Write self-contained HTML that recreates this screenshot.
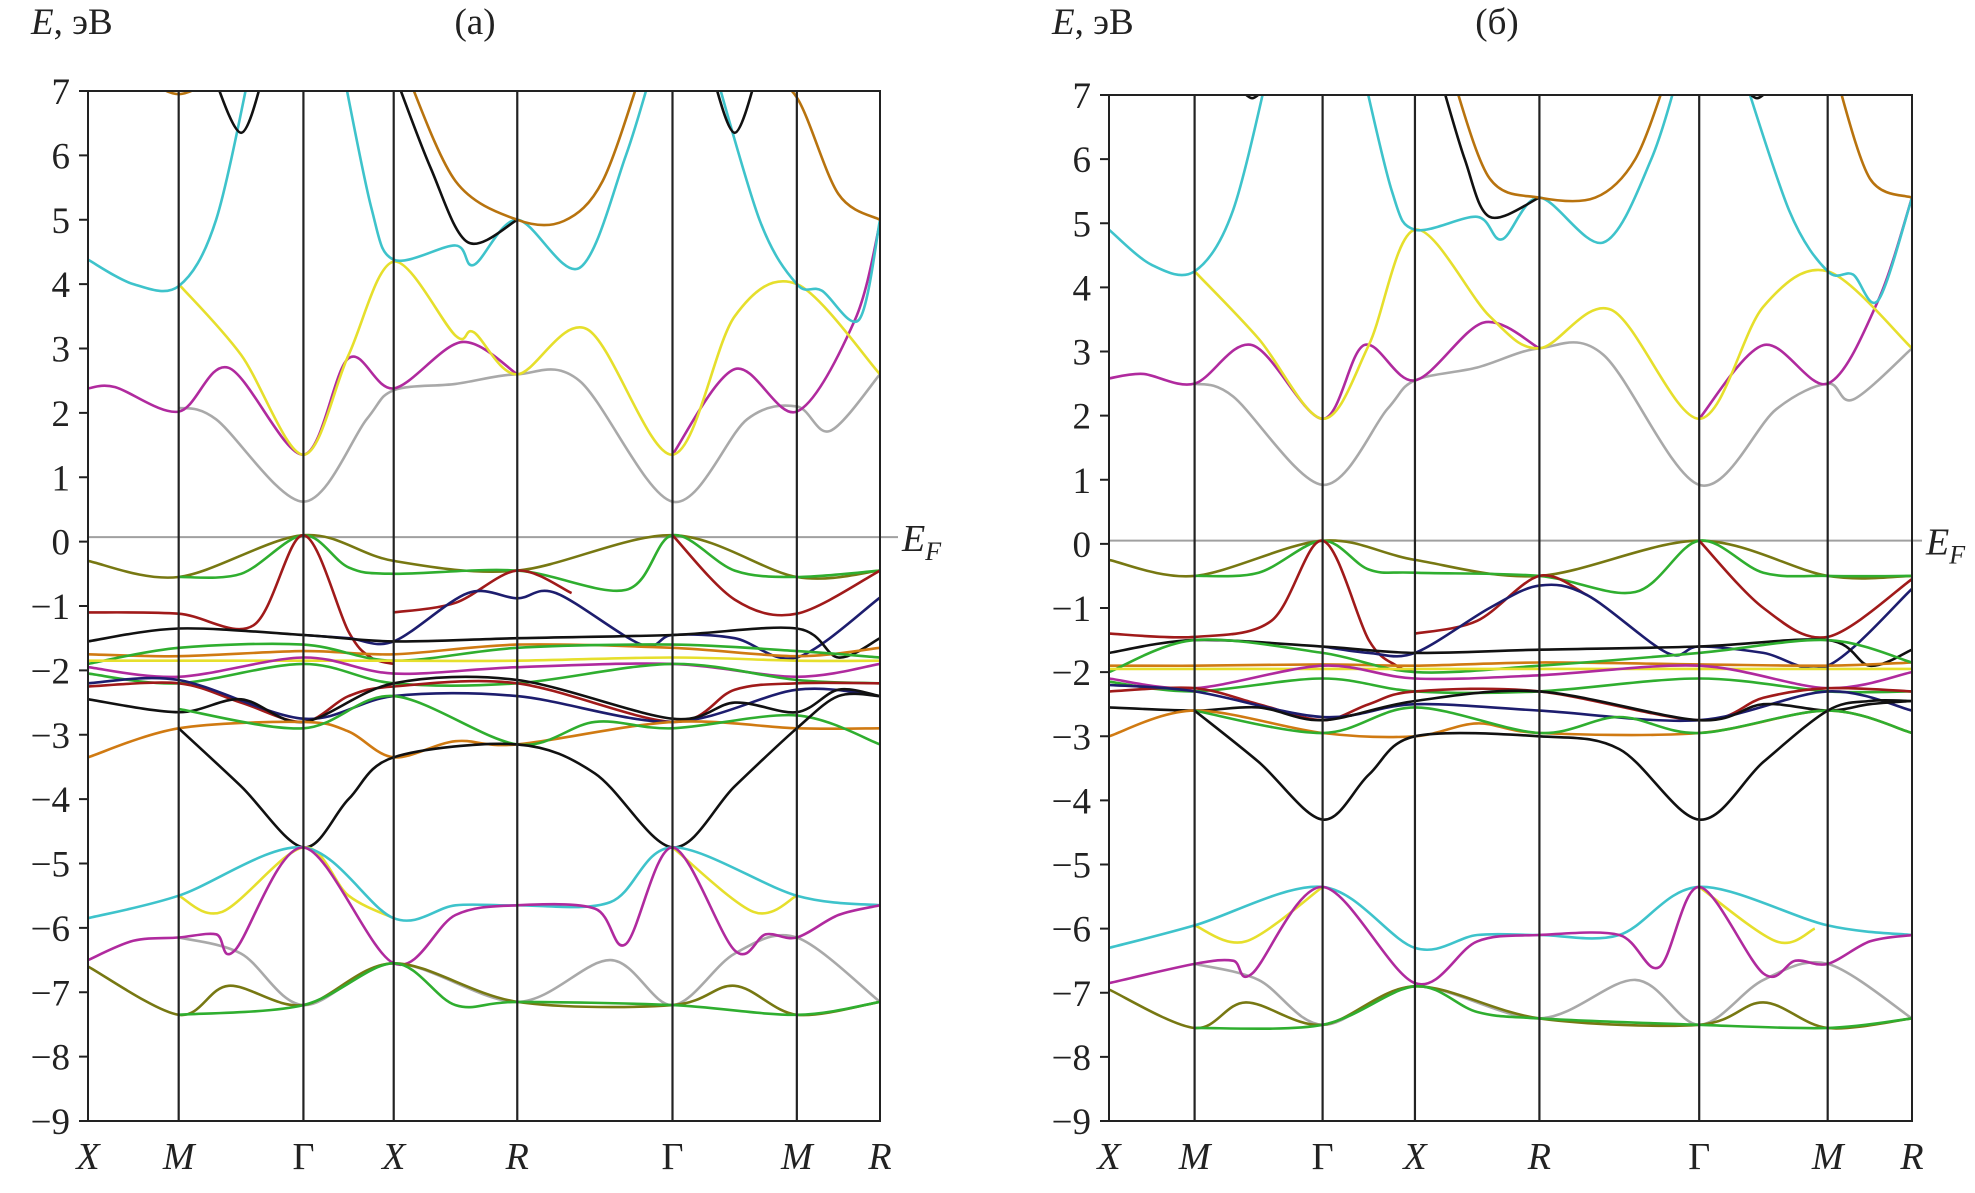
<!DOCTYPE html>
<html><head><meta charset="utf-8">
<style>
html,body{margin:0;padding:0;background:#fff;}
svg{display:block;}
text{font-family:"Liberation Serif",serif;fill:#222;}
</style></head>
<body>
<svg id="chart" width="1975" height="1193" viewBox="0 0 1975 1193" xmlns="http://www.w3.org/2000/svg"></svg>
<script>
// ---- data (energies in eV; k in path-node units: X=0,M=1,Γ=2,X=3,R=4,Γ=5,M=6,R=7) ----
const kLabels = ["X","M","Γ","X","R","Γ","M","R"];
const yTicks = [7,6,5,4,3,2,1,0,-1,-2,-3,-4,-5,-6,-7,-8,-9];
const fermiA = 0.07;
const fermiB = 0.05;

const C = {cyan:"#3ec3cb",yellow:"#e6df2c",purple:"#b02a9e",gray:"#a9a9a9",brown:"#b8730e",black:"#111",olive:"#777812",green:"#2fae2f",red:"#a01a1a",navy:"#1d1d6e",orange:"#d07a12"};

const bandsA = [
 ["gray",[[1,2.08],[1.3,1.9],[2,0.62],[2.7,1.9],[3,2.35],[3.5,2.45],[4,2.6],[4.4,2.5],[5,0.62],[5.6,1.9],[6,2.1],[6.4,1.72],[7,2.6]]],
 ["purple",[[0,2.38],[0.3,2.4],[1,2.02],[1.4,2.7],[2,1.35],[2.5,2.85],[3,2.38],[3.55,3.1],[4,2.6]]],
 ["purple",[[5,1.35],[5.5,2.68],[6,2.02],[6.7,3.45],[7,4.95]]],
 ["yellow",[[1,4.0],[1.5,2.9],[2,1.35],[2.5,2.9],[3,4.35],[3.5,3.2],[3.65,3.25],[4,2.6],[4.45,3.3],[5,1.35],[5.5,3.5],[6,4.0],[7,2.6]]],
 ["cyan",[[0,4.38],[0.5,4.0],[1,3.97],[1.3,5],[1.6,7.6]]],
 ["cyan",[[2.4,7.6],[2.75,5.2],[3,4.38],[3.5,4.6],[3.65,4.3],[4,5.0],[4.4,4.25],[4.7,6],[4.9,7.6]]],
 ["cyan",[[5.3,7.6],[5.7,5],[6,4.0],[6.3,3.9],[6.75,3.45],[7,5.0]]],
 ["black",[[1.25,7.4],[1.5,6.35],[1.7,7.4]]],
 ["black",[[3,7.3],[3.3,5.8],[3.6,4.65],[4,5.0]]],
 ["black",[[5.3,7.4],[5.5,6.35],[5.7,7.4]]],
 ["brown",[[0.6,7.2],[1,6.95],[1.3,7.2]]],
 ["brown",[[3.1,7.3],[3.5,5.6],[4,5.0],[4.3,4.98],[4.55,5.6],[4.8,7.3]]],
 ["brown",[[5.7,7.3],[6,6.9],[6.5,5.4],[7,5.0]]],
 ["olive",[[0,-0.3],[1,-0.55],[2,0.1],[3,-0.3],[4,-0.45],[5,0.1],[6,-0.55],[7,-0.45]]],
 ["green",[[1,-0.55],[1.5,-0.5],[2,0.1],[2.5,-0.4],[3,-0.5],[4,-0.45],[4.7,-0.75],[5,0.1],[5.5,-0.45],[6,-0.55],[7,-0.45]]],
 ["red",[[0,-1.1],[1,-1.12],[1.6,-1.3],[2,0.1],[2.5,-1.4],[2.75,-1.8],[3,-1.9]]],
 ["red",[[3,-1.1],[3.5,-0.95],[4,-0.45],[4.35,-0.8]]],
 ["red",[[5,0.1],[5.5,-0.9],[6,-1.12],[7,-0.45]]],
 ["navy",[[2,-1.45],[2.5,-1.5],[3,-1.55],[3.6,-0.8],[4,-0.88],[4.25,-0.8],[4.8,-1.6],[5,-1.45],[5.5,-1.5],[6,-1.8],[7,-0.87]]],
 ["black",[[0,-1.55],[1,-1.35],[2,-1.45],[3,-1.55],[4,-1.5],[5,-1.45],[6,-1.35],[6.5,-1.8],[7,-1.5]]],
 ["orange",[[0,-1.75],[1,-1.78],[2,-1.7],[3,-1.75],[4,-1.6],[5,-1.65],[6,-1.78],[7,-1.65]]],
 ["green",[[0,-1.9],[1,-1.65],[2,-1.6],[3,-1.85],[4,-1.65],[5,-1.6],[6,-1.7],[7,-1.8]]],
 ["yellow",[[0,-1.85],[1,-1.85],[2,-1.85],[3,-1.85],[4,-1.85],[5,-1.8],[6,-1.85],[7,-1.85]]],
 ["purple",[[0,-1.95],[1,-2.1],[2,-1.8],[3,-2.05],[4,-1.95],[5,-1.9],[6,-2.1],[7,-1.9]]],
 ["green",[[0,-2.05],[1,-2.2],[2,-1.9],[3,-2.2],[4,-2.2],[5,-1.9],[6,-2.15],[7,-2.2]]],
 ["red",[[0,-2.25],[1,-2.2],[1.5,-2.5],[2,-2.8],[2.5,-2.4],[3,-2.25],[4,-2.2],[5,-2.8],[5.5,-2.3],[6,-2.2],[7,-2.2]]],
 ["navy",[[0,-2.2],[1,-2.15],[2,-2.75],[3,-2.4],[4,-2.4],[5,-2.8],[6,-2.3],[7,-2.4]]],
 ["black",[[0,-2.45],[1,-2.65],[1.5,-2.45],[2,-2.8],[3,-2.2],[4,-2.15],[5,-2.75],[5.5,-2.5],[6,-2.65],[6.5,-2.3],[7,-2.4]]],
 ["orange",[[0,-3.35],[1,-2.9],[2,-2.8],[2.5,-2.95],[3,-3.35],[3.5,-3.1],[4,-3.15],[5,-2.8],[6,-2.9],[7,-2.9]]],
 ["green",[[1,-2.6],[2,-2.9],[3,-2.4],[4,-3.15],[4.5,-2.8],[5,-2.9],[6,-2.7],[7,-3.15]]],
 ["black",[[1,-2.9],[1.5,-3.8],[2,-4.75],[2.5,-4.0],[3,-3.35],[4,-3.15],[4.5,-3.6],[5,-4.75],[5.5,-3.8],[6,-2.9],[6.5,-2.4],[7,-2.4]]],
 ["gray",[[1,-6.15],[1.5,-6.4],[2,-7.2],[3,-6.55],[4,-7.15],[4.6,-6.5],[5,-7.2],[5.5,-6.4],[6,-6.15],[7,-7.15]]],
 ["yellow",[[1,-5.5],[1.35,-5.75],[2,-4.75],[2.5,-5.5],[3,-5.85]]],
 ["yellow",[[5,-4.75],[5.65,-5.75],[6,-5.5]]],
 ["cyan",[[0,-5.85],[1,-5.5],[2,-4.75],[3,-5.85],[3.5,-5.65],[4,-5.65],[4.6,-5.6],[5,-4.75],[6,-5.5],[7,-5.65]]],
 ["purple",[[0,-6.5],[0.5,-6.2],[1,-6.15],[1.3,-6.1],[1.45,-6.35],[2,-4.75],[3,-6.55],[3.5,-5.8],[4,-5.65],[4.5,-5.7],[4.7,-6.25],[5,-4.75],[5.5,-6.35],[5.75,-6.1],[6,-6.15],[6.5,-5.8],[7,-5.65]]],
 ["olive",[[0,-6.6],[1,-7.35],[1.4,-6.9],[2,-7.2],[3,-6.55],[4,-7.15],[5,-7.2],[5.5,-6.9],[6,-7.35],[7,-7.15]]],
 ["green",[[1,-7.35],[2,-7.2],[3,-6.55],[3.5,-7.2],[4,-7.15],[5,-7.2],[6,-7.35],[7,-7.15]]]
];

const bandsB = [
 ["gray",[[1,2.5],[1.3,2.3],[2,0.92],[2.7,2.1],[3,2.55],[3.5,2.75],[4,3.05],[4.4,2.95],[5,0.92],[5.6,2.1],[6,2.5],[6.3,2.25],[7,3.05]]],
 ["purple",[[0,2.58],[0.4,2.65],[1,2.5],[1.45,3.1],[2,1.95],[2.45,3.1],[3,2.55],[3.55,3.45],[4,3.05]]],
 ["purple",[[5,1.95],[5.5,3.1],[6,2.5],[6.6,3.8],[7,5.4]]],
 ["yellow",[[1,4.25],[1.5,3.2],[2,1.95],[2.5,3.1],[3,4.9],[3.6,3.55],[4,3.05],[4.45,3.65],[5,1.95],[5.5,3.7],[6,4.25],[7,3.05]]],
 ["cyan",[[0,4.9],[0.5,4.35],[1,4.25],[1.3,5.2],[1.6,7.6]]],
 ["cyan",[[2.4,7.6],[2.75,5.5],[3,4.9],[3.5,5.1],[3.7,4.75],[4,5.4],[4.4,4.7],[4.7,6],[4.9,7.6]]],
 ["cyan",[[5.3,7.6],[5.7,5.2],[6,4.25],[6.3,4.2],[6.6,3.8],[7,5.4]]],
 ["black",[[1.35,7.1],[1.45,6.95],[1.55,7.1]]],
 ["black",[[3.2,7.3],[3.4,6.0],[3.6,5.1],[4,5.4]]],
 ["black",[[5.35,7.1],[5.45,6.95],[5.55,7.1]]],
 ["brown",[[3.3,7.3],[3.6,5.7],[4,5.4],[4.35,5.4],[4.6,6.0],[4.8,7.3]]],
 ["brown",[[6.1,7.3],[6.5,5.7],[7,5.4]]],
 ["olive",[[0,-0.25],[1,-0.5],[2,0.05],[3,-0.25],[4,-0.5],[5,0.05],[6,-0.5],[7,-0.5]]],
 ["green",[[1,-0.5],[1.5,-0.45],[2,0.05],[2.5,-0.4],[3,-0.45],[4,-0.5],[4.6,-0.75],[5,0.05],[5.5,-0.45],[6,-0.5],[7,-0.5]]],
 ["red",[[0,-1.4],[1,-1.45],[1.6,-1.2],[2,0.05],[2.5,-1.5],[2.8,-1.9],[3,-2.0]]],
 ["red",[[3,-1.4],[3.5,-1.2],[4,-0.5],[4.3,-0.8]]],
 ["red",[[5,0.05],[5.5,-1.0],[6,-1.45],[7,-0.55]]],
 ["navy",[[2,-1.6],[2.5,-1.7],[3,-1.7],[3.6,-1.0],[4,-0.65],[4.3,-0.8],[4.8,-1.7],[5,-1.6],[5.5,-1.7],[6,-1.9],[7,-0.7]]],
 ["black",[[0,-1.7],[1,-1.5],[2,-1.6],[3,-1.7],[4,-1.65],[5,-1.6],[6,-1.5],[6.5,-1.9],[7,-1.65]]],
 ["orange",[[0,-1.9],[1,-1.9],[2,-1.88],[3,-1.9],[4,-1.85],[5,-1.88],[6,-1.9],[7,-1.85]]],
 ["green",[[0,-2.0],[1,-1.5],[2,-1.7],[3,-2.0],[4,-1.9],[5,-1.7],[6,-1.5],[7,-1.85]]],
 ["yellow",[[0,-1.95],[1,-1.95],[2,-1.95],[3,-1.95],[4,-1.95],[5,-1.95],[6,-1.95],[7,-1.95]]],
 ["purple",[[0,-2.1],[1,-2.25],[2,-1.9],[3,-2.1],[4,-2.05],[5,-1.9],[6,-2.25],[7,-2.0]]],
 ["green",[[0,-2.15],[1,-2.3],[2,-2.1],[3,-2.3],[4,-2.3],[5,-2.1],[6,-2.3],[7,-2.3]]],
 ["red",[[0,-2.3],[1,-2.25],[1.5,-2.5],[2,-2.75],[2.5,-2.5],[3,-2.3],[4,-2.3],[5,-2.75],[5.5,-2.4],[6,-2.25],[7,-2.3]]],
 ["navy",[[0,-2.2],[1,-2.3],[2,-2.7],[3,-2.5],[4,-2.6],[5,-2.75],[6,-2.3],[7,-2.6]]],
 ["black",[[0,-2.55],[1,-2.6],[1.5,-2.55],[2,-2.75],[3,-2.45],[4,-2.3],[5,-2.75],[5.5,-2.5],[6,-2.6],[6.5,-2.5],[7,-2.45]]],
 ["orange",[[0,-3.0],[1,-2.6],[2,-2.95],[3,-3.0],[3.5,-2.8],[4,-2.95],[5,-2.95],[6,-2.6],[7,-2.95]]],
 ["green",[[1,-2.6],[2,-2.95],[3,-2.55],[4,-2.95],[4.5,-2.7],[5,-2.95],[6,-2.6],[7,-2.95]]],
 ["black",[[1,-2.6],[1.5,-3.4],[2,-4.3],[2.5,-3.6],[3,-3.0],[4,-3.0],[4.5,-3.2],[5,-4.3],[5.5,-3.4],[6,-2.6],[6.5,-2.45],[7,-2.45]]],
 ["gray",[[1,-6.55],[1.5,-6.8],[2,-7.5],[3,-6.9],[4,-7.4],[4.6,-6.8],[5,-7.5],[5.5,-6.8],[6,-6.55],[7,-7.4]]],
 ["yellow",[[1,-5.95],[1.4,-6.2],[2,-5.35]]],
 ["yellow",[[5,-5.35],[5.6,-6.2],[5.9,-6.0]]],
 ["cyan",[[0,-6.3],[1,-5.95],[2,-5.35],[3,-6.3],[3.5,-6.1],[4,-6.1],[4.5,-6.1],[5,-5.35],[6,-5.95],[7,-6.1]]],
 ["purple",[[0,-6.85],[1,-6.55],[1.3,-6.5],[1.45,-6.7],[2,-5.35],[3,-6.85],[3.5,-6.2],[4,-6.1],[4.5,-6.1],[4.75,-6.6],[5,-5.35],[5.5,-6.7],[5.75,-6.5],[6,-6.55],[6.5,-6.2],[7,-6.1]]],
 ["olive",[[0,-6.95],[1,-7.55],[1.4,-7.15],[2,-7.5],[3,-6.9],[4,-7.4],[5,-7.5],[5.5,-7.15],[6,-7.55],[7,-7.4]]],
 ["green",[[1,-7.55],[2,-7.5],[3,-6.9],[3.5,-7.3],[4,-7.4],[5,-7.5],[6,-7.55],[7,-7.4]]]
];

const NS="http://www.w3.org/2000/svg";
const svg=document.getElementById('chart');
function mk(tag,attrs,parent){const e=document.createElementNS(NS,tag);for(const k in attrs)e.setAttribute(k,attrs[k]);(parent||svg).appendChild(e);return e;}

function drawPanel(P){
  const g=mk('g',{});
  
  
  const xs=P.fr.map(f=>P.x0+f*(P.x1-P.x0));
  const X=k=>{const i=Math.min(6,Math.floor(k));return xs[i]+(k-i)*(xs[i+1]-xs[i]);};
  const Y=e=>P.yTop+(7-e)*(P.yBot-P.yTop)/16;
  const cid='clip'+P.id;
  const cp=mk('clipPath',{id:cid},g);
  mk('rect',{x:P.x0,y:P.yTop,width:P.x1-P.x0,height:P.yBot-P.yTop},cp);
  const fl=mk('line',{x1:P.x0,x2:P.efEnd,y1:Y(P.ef),y2:Y(P.ef),stroke:'#a0a0a0','stroke-width':2},g);
  
  
  const bg=mk('g',{'clip-path':'url(#'+cid+')'},g);
  P.bands.forEach((b,bi)=>{
    const pts=b[1].map(p=>[X(p[0]),Y(p[1])]);
    let d='M'+pts[0][0].toFixed(1)+','+pts[0][1].toFixed(1);
    for(let i=0;i<pts.length-1;i++){
      const p0=pts[Math.max(0,i-1)],p1=pts[i],p2=pts[i+1],p3=pts[Math.min(pts.length-1,i+2)];
      const t=0.16;
      const c1=[p1[0]+(p2[0]-p0[0])*t,p1[1]+(p2[1]-p0[1])*t];
      const c2=[p2[0]-(p3[0]-p1[0])*t,p2[1]-(p3[1]-p1[1])*t];
      d+=' C'+c1.map(v=>v.toFixed(1)).join(',')+' '+c2.map(v=>v.toFixed(1)).join(',')+' '+p2[0].toFixed(1)+','+p2[1].toFixed(1);
    }
    const path=mk('path',{d:d,fill:'none',stroke:C[b[0]],'stroke-width':2.6,'stroke-linejoin':'round'},bg);
    
    
  });
  xs.slice(1,7).forEach((x,i)=>{
    const l=mk('line',{x1:x,x2:x,y1:P.yTop,y2:P.yBot,stroke:'#222','stroke-width':2.2},g);
    
    
  });
  const fr=mk('rect',{x:P.x0,y:P.yTop,width:P.x1-P.x0,height:P.yBot-P.yTop,fill:'none',stroke:'#222','stroke-width':2},g);
  
  
  yTicks.forEach(v=>{
    const y=Y(v);
    mk('line',{x1:P.x0-9,x2:P.x0,y1:y,y2:y,stroke:'#222','stroke-width':2},g);
    const t=mk('text',{x:P.x0-18,y:y+13,'text-anchor':'end','font-size':37},g);
    t.textContent=v<0?'\u2212'+(-v):String(v);
    
    
  });
  kLabels.forEach((s,i)=>{
    const t=mk('text',{x:xs[i],y:P.yBot+48,'text-anchor':'middle','font-size':38,'font-style':s==='Γ'?'normal':'italic'},g);
    t.textContent=s;
    
    
  });
  const yl=mk('text',{x:P.x0-57,y:34,'font-size':37},g);
  yl.innerHTML='<tspan font-style="italic">E</tspan>, эВ';
  
  
  const tt=mk('text',{x:P.titleX,y:34,'text-anchor':'middle','font-size':37},g);
  tt.textContent=P.title;
  
  
  const ef=mk('text',{x:P.efEnd+4,y:Y(P.ef)+14,'font-size':38,'font-style':'italic'},g);
  ef.innerHTML='E<tspan font-size="26" dy="9">F</tspan>';
  
  
}
drawPanel({id:'a',name:'panel-a',x0:88,x1:880,yTop:91,yBot:1121,bands:bandsA,ef:fermiA,efEnd:898,title:'(a)',titleX:475,
  fr:[0,0.1145,0.272,0.386,0.542,0.738,0.895,1]});
drawPanel({id:'b',name:'panel-b',x0:1109,x1:1912,yTop:95,yBot:1121,bands:bandsB,ef:fermiB,efEnd:1922,title:'(б)',titleX:1497,
  fr:[0,0.1066,0.266,0.381,0.536,0.735,0.895,1]});
</script>
</body></html>
